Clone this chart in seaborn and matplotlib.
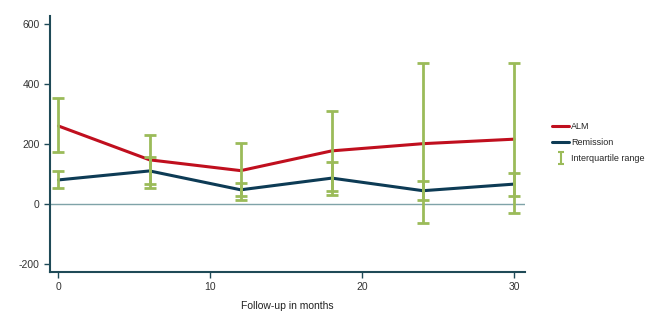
import numpy as np
import pandas as pd
import matplotlib
matplotlib.use("Agg")
import matplotlib.pyplot as plt
import seaborn as sns
from matplotlib.lines import Line2D
from matplotlib.path import Path

months = [0, 6, 12, 18, 24, 30]
alm = [260, 147, 111, 177, 201, 216]
remission = [80, 110, 47, 86, 44, 66]
alm_q1 = [173, 66, 27, 28, 13, -29]
alm_q3 = [354, 230, 204, 309, 469, 469]
rem_q1 = [52, 52, 13, 42, -63, 26]
rem_q3 = [110, 157, 70, 140, 77, 104]
yticks = [-200, 0, 200, 400, 600]
xticks = [0, 10, 20, 30]

sns.set_theme(style="white")
plt.rcParams['font.family'] = ['Liberation Sans', 'DejaVu Sans']
plt.rcParams['axes.unicode_minus'] = False

df = pd.DataFrame({
    "month": months * 2,
    "value": alm + remission,
    "group": ["ALM"] * 6 + ["Remission"] * 6,
})

fig = plt.figure(figsize=(6.51, 3.21), dpi=100)
ax = fig.add_axes([0.077, 0.153, 0.729, 0.797])

red = "#c00f1e"
navy = "#0d3b55"
green = "#9bbb59"
spine = "#1f4a57"

ax.axhline(0, color="#7fa3a8", lw=1.0, zorder=1)
sns.lineplot(data=df, x="month", y="value", hue="group",
             palette={"ALM": red, "Remission": navy}, lw=2.2, ax=ax,
             legend=False, zorder=2)

for q1, q3, med in [(alm_q1, alm_q3, alm), (rem_q1, rem_q3, remission)]:
    m = np.array(med, dtype=float)
    lo = m - np.array(q1)
    hi = np.array(q3) - m
    ax.errorbar(months, m, yerr=[lo, hi], fmt="none", ecolor=green,
                elinewidth=2.0, capsize=4, capthick=2.0, zorder=3)

ax.set_xlim(-0.55, 30.7)
ax.set_ylim(-227, 627)
ax.set_xticks(xticks)
ax.set_yticks(yticks)
ax.set_xticklabels([str(t) for t in xticks])
ax.set_yticklabels([str(t) for t in yticks])
ax.tick_params(axis="both", labelsize=7.5, colors="#333333", length=4,
               width=1.0, direction="out", bottom=True, left=True)
ax.tick_params(axis="both", color=spine)
for s in ["top", "right"]:
    ax.spines[s].set_visible(False)
for s in ["left", "bottom"]:
    ax.spines[s].set_color(spine)
    ax.spines[s].set_linewidth(1.5)
ax.set_xlabel("Follow-up in months", fontsize=7.5, color="#222222", labelpad=6)
ax.set_ylabel("")

ibeam = Path([(-0.5, 1), (0.5, 1), (0, 1), (0, -1), (-0.5, -1), (0.5, -1)],
             [Path.MOVETO, Path.LINETO, Path.MOVETO, Path.LINETO,
              Path.MOVETO, Path.LINETO])
handles = [
    Line2D([], [], color=red, lw=2.2),
    Line2D([], [], color=navy, lw=2.2),
    Line2D([], [], lw=0, marker=ibeam, markersize=9, markerfacecolor="none",
           markeredgecolor=green, markeredgewidth=1.5),
]
fig.legend(handles, ["ALM", "Remission", "Interquartile range"],
           loc="upper left", bbox_to_anchor=(0.843, 0.63), frameon=False,
           fontsize=6.5, handlelength=1.8, handletextpad=0.3, labelspacing=0.75,
           borderaxespad=0.0)

fig.savefig("out.png", dpi=100)
